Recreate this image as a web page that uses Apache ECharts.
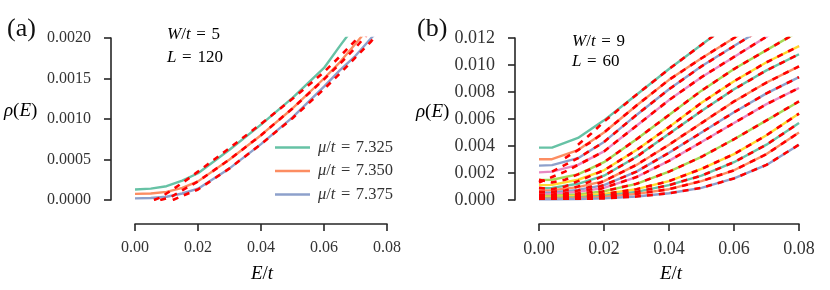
<!DOCTYPE html>
<html>
<head>
<meta charset="utf-8">
<script src="https://cdn.jsdelivr.net/npm/echarts@6/dist/echarts.min.js"></script>
<style>
html,body{margin:0;padding:0;background:#fff;}
#chart{width:830px;height:290px;}
</style>
</head>
<body>
<div id="chart"></div>
<script>
// ---------- Data ----------
const SET2 = ['#66c2a5', '#fc8d62', '#8da0cb', '#e78ac3', '#a6d854', '#ffd92f'];
const FIT_COLOR = '#ff0000';

// Panel (a): W/t = 5, L = 120
const A_MU_LABELS = ['7.325', '7.350', '7.375'];
const A_E = [0, 0.005, 0.01, 0.015, 0.02, 0.03, 0.04, 0.05, 0.06, 0.065, 0.07, 0.075, 0.08];
const A_RHO_1 = [0.00013, 0.00014, 0.00017, 0.00024, 0.00033, 0.00062, 0.00093, 0.00126, 0.00163, 0.0019, 0.00216, 0.0024, 0.0027];
const A_RHO_2 = [0.000075, 0.00008, 0.0001, 0.00015, 0.00023, 0.0005, 0.0008, 0.00113, 0.0015, 0.0017, 0.00193, 0.00216, 0.0024];
const A_RHO_3 = [0.00002, 0.000025, 0.00004, 0.00008, 0.00014, 0.00039, 0.00069, 0.00102, 0.0014, 0.0016, 0.00178, 0.002, 0.0022];

const A_FIT_E = [0.004, 0.006, 0.008, 0.01, 0.012, 0.015, 0.02, 0.03, 0.04, 0.05, 0.06, 0.065, 0.07, 0.075, 0.08];
const A_FIT_1 = [null, 0, 0.00003, 0.00008, 0.00013, 0.00021, 0.00035, 0.00064, 0.00094, 0.00125, 0.00158, 0.00177, 0.00197, 0.0022, 0.0024];
const A_FIT_2 = [null, null, 0, 0.00002, 0.00005, 0.00012, 0.00023, 0.0005, 0.0008, 0.00113, 0.00149, 0.00168, 0.00188, 0.0021, 0.0023];
const A_FIT_3 = [null, null, null, null, 0, 0.00005, 0.00013, 0.00039, 0.00069, 0.00101, 0.00137, 0.00156, 0.00176, 0.00196, 0.0022];

// Panel (b): W/t = 9, L = 60
const B_E = [0, 0.004, 0.012, 0.02, 0.03, 0.04, 0.05, 0.06, 0.07, 0.08];
const B_RHO_0  = [0.00388, 0.00388, 0.0046, 0.0059, 0.0078, 0.0097, 0.0115, 0.0133, 0.015, 0.0167];
const B_RHO_1  = [0.00302, 0.00302, 0.0037, 0.0050, 0.0070, 0.0089, 0.0105, 0.0120, 0.0135, 0.0150];
const B_RHO_2  = [0.00255, 0.00258, 0.0031, 0.0043, 0.0063, 0.0082, 0.0099, 0.0114, 0.0129, 0.0143];
const B_RHO_3  = [0.00205, 0.0021, 0.0026, 0.0036, 0.0055, 0.0074, 0.0091, 0.0106, 0.0121, 0.0135];
const B_RHO_4  = [0.00148, 0.0015, 0.0019, 0.0028, 0.0045, 0.0063, 0.0081, 0.0097, 0.0111, 0.0125];
const B_RHO_5  = [0.0011, 0.00112, 0.0015, 0.0022, 0.0037, 0.0054, 0.0072, 0.0088, 0.0102, 0.0114];
const B_RHO_6  = [0.00087, 0.0009, 0.0012, 0.0018, 0.0032, 0.0049, 0.0066, 0.0082, 0.0096, 0.0108];
const B_RHO_7  = [0.0007, 0.00072, 0.00095, 0.0014, 0.0026, 0.0041, 0.0057, 0.0073, 0.0087, 0.0099];
const B_RHO_8  = [0.00054, 0.00056, 0.00075, 0.0011, 0.0021, 0.0035, 0.0050, 0.0065, 0.0079, 0.0091];
const B_RHO_9  = [0.00042, 0.00044, 0.0006, 0.0009, 0.0017, 0.0029, 0.0043, 0.0057, 0.0071, 0.0083];
const B_RHO_10 = [0.0003, 0.00031, 0.00042, 0.00065, 0.0012, 0.0021, 0.0032, 0.0045, 0.0059, 0.0073];
const B_RHO_11 = [0.00022, 0.00023, 0.0003, 0.00045, 0.0008, 0.0014, 0.0023, 0.0034, 0.0048, 0.0064];
const B_RHO_12 = [0.00015, 0.00015, 0.0002, 0.00032, 0.0006, 0.0011, 0.0018, 0.0028, 0.0041, 0.0057];
const B_RHO_13 = [0.0001, 0.0001, 0.00014, 0.00022, 0.00045, 0.0008, 0.0014, 0.0022, 0.0034, 0.0050];
const B_RHO_14 = [0.00005, 0.00005, 0.00007, 0.00012, 0.00026, 0.0005, 0.0009, 0.0016, 0.0026, 0.0041];

const B_FIT_E = [0, 0.004, 0.008, 0.012, 0.016, 0.02, 0.03, 0.04, 0.05, 0.06, 0.07, 0.08];
const B_FIT_0  = [null, null, null, 0.0041, 0.0049, 0.0058, 0.0078, 0.0097, 0.0115, 0.0133, 0.015, 0.0167];
const B_FIT_1  = [null, null, 0.0031, 0.0037, 0.0043, 0.0050, 0.0070, 0.0089, 0.0105, 0.0120, 0.0135, 0.0150];
const B_FIT_2  = [null, 0.0021, 0.0026, 0.0031, 0.0037, 0.0043, 0.0063, 0.0082, 0.0099, 0.0114, 0.0129, 0.0143];
const B_FIT_3  = [0.0013, 0.0017, 0.0021, 0.0026, 0.0031, 0.0036, 0.0055, 0.0074, 0.0091, 0.0106, 0.0121, 0.0135];
const B_FIT_4  = [0.0015, 0.0013, 0.0015, 0.0019, 0.0023, 0.0028, 0.0045, 0.0063, 0.0081, 0.0097, 0.0111, 0.0125];
const B_FIT_5  = [0.0009, 0.0008, 0.0010, 0.0014, 0.0018, 0.0022, 0.0037, 0.0054, 0.0072, 0.0088, 0.0102, 0.0114];
const B_FIT_6  = [0.0006, 0.0006, 0.0007, 0.0010, 0.0014, 0.0018, 0.0032, 0.0049, 0.0066, 0.0082, 0.0096, 0.0108];
const B_FIT_7  = [0.0004, 0.0004, 0.0005, 0.0007, 0.0010, 0.0014, 0.0026, 0.0041, 0.0057, 0.0073, 0.0087, 0.0099];
const B_FIT_8  = [0.0003, 0.0003, 0.0004, 0.0005, 0.0008, 0.0011, 0.0021, 0.0035, 0.0050, 0.0065, 0.0079, 0.0091];
const B_FIT_9  = [0.0002, 0.0002, 0.0003, 0.0004, 0.0006, 0.0009, 0.0017, 0.0029, 0.0043, 0.0057, 0.0071, 0.0083];
const B_FIT_10 = [0.0002, 0.0002, 0.0002, 0.0003, 0.0004, 0.00065, 0.0012, 0.0021, 0.0032, 0.0045, 0.0059, 0.0073];
const B_FIT_11 = [0.0001, 0.0001, 0.0002, 0.0002, 0.0003, 0.00045, 0.0008, 0.0014, 0.0023, 0.0034, 0.0048, 0.0064];
const B_FIT_12 = [0.0001, 0.0001, 0.0001, 0.0002, 0.0002, 0.0003, 0.0006, 0.0011, 0.0018, 0.0028, 0.0041, 0.0057];
const B_FIT_13 = [0.0001, 0.0001, 0.0001, 0.0001, 0.0002, 0.0002, 0.00045, 0.0008, 0.0014, 0.0022, 0.0034, 0.0050];
const B_FIT_14 = [0.0001, 0.0001, 0.0001, 0.0001, 0.0001, 0.00012, 0.00026, 0.0005, 0.0009, 0.0016, 0.0026, 0.0041];

// Tick values
const X_TICKS = [0, 0.02, 0.04, 0.06, 0.08];
const A_Y_TICKS = [0, 0.0005, 0.001, 0.0015, 0.002];
const B_Y_TICKS = [0, 0.002, 0.004, 0.006, 0.008, 0.010, 0.012];

// ---------- Build ----------
const B_RHO = [B_RHO_0, B_RHO_1, B_RHO_2, B_RHO_3, B_RHO_4, B_RHO_5, B_RHO_6, B_RHO_7,
  B_RHO_8, B_RHO_9, B_RHO_10, B_RHO_11, B_RHO_12, B_RHO_13, B_RHO_14];
const B_FIT = [B_FIT_0, B_FIT_1, B_FIT_2, B_FIT_3, B_FIT_4, B_FIT_5, B_FIT_6, B_FIT_7,
  B_FIT_8, B_FIT_9, B_FIT_10, B_FIT_11, B_FIT_12, B_FIT_13, B_FIT_14];

const FONT = 'Liberation Serif';
const TXT = '#333333';
const pairs = (xs, ys) => xs.map((x, i) => [x, ys[i]]);
const muName = (s) => 'μ/t = ' + s;
const SP = '\u2004';

const series = [];
function solid(name, xi, yi, data, color) {
  series.push({ name, type: 'line', xAxisIndex: xi, yAxisIndex: yi, data, symbol: 'none',
    lineStyle: { color, width: 2.4 }, itemStyle: { color }, z: 2, animation: false, silent: true });
}
function fit(xi, yi, data) {
  series.push({ type: 'line', xAxisIndex: xi, yAxisIndex: yi, data, symbol: 'none',
    lineStyle: { color: FIT_COLOR, width: 2.6, type: [6, 6] }, z: 3, animation: false, silent: true });
}
[A_RHO_1, A_RHO_2, A_RHO_3].forEach((r, i) => solid(muName(A_MU_LABELS[i]), 0, 0, pairs(A_E, r), SET2[i]));
[A_FIT_1, A_FIT_2, A_FIT_3].forEach(r => fit(0, 0, pairs(A_FIT_E, r)));
B_RHO.forEach((r, i) => solid('b' + i, 1, 1, pairs(B_E, r), SET2[i % 6]));
B_FIT.forEach(r => fit(1, 1, pairs(B_FIT_E, r)));

const axisLine = { show: true, onZero: false, lineStyle: { color: '#262626', width: 1.6 } };
const axisTick = { show: true, length: 7, inside: false, lineStyle: { color: '#262626', width: 1.6 } };

function xAx(grid, fs) {
  return { type: 'value', gridIndex: grid, min: 0, max: 0.08, interval: 0.02, offset: 24,
    axisLine, axisTick, splitLine: { show: false },
    axisLabel: { margin: 16, formatter: v => v.toFixed(2), color: TXT, fontFamily: FONT, fontSize: fs } };
}
function yAx(grid, max, interval, dec, fs) {
  return { type: 'value', gridIndex: grid, min: 0, max, interval, offset: 24,
    axisLine, axisTick, splitLine: { show: false },
    axisLabel: { margin: 20, formatter: v => v.toFixed(dec), color: TXT, fontFamily: FONT, fontSize: fs } };
}

function mtext(x, y, text, align, size) {
  const r = {
    i: { fontFamily: FONT, fontStyle: 'italic', fontSize: size, color: TXT },
    n: { fontFamily: FONT, fontSize: size, color: TXT }
  };
  return { type: 'text', x, y, silent: true,
    style: { text, rich: r, align: align || 'left', verticalAlign: 'middle' } };
}

const option = {
  backgroundColor: '#fff',
  animation: false,
  grid: [
    { left: 135, top: 38, width: 252, height: 162 },
    { left: 539, top: 38, width: 260, height: 162 }
  ],
  xAxis: [xAx(0, 16), xAx(1, 18)],
  yAxis: [yAx(0, 0.002, 0.0005, 4, 16), yAx(1, 0.012, 0.002, 3, 18)],
  legend: {
    data: A_MU_LABELS.map(muName),
    orient: 'vertical', left: 270, top: 134,
    itemWidth: 35, itemHeight: 14, itemGap: 6.5,
    icon: 'path://M0,6h35v2.4h-35z',
    formatter: name => '{i|μ}{n|/}{i|t}{n|' + SP + '=' + SP + name.split('= ')[1] + '}',
    textStyle: { padding: [0, 0, 0, 3], rich: {
      i: { fontFamily: FONT, fontStyle: 'italic', fontSize: 16.5, color: TXT },
      n: { fontFamily: FONT, fontSize: 16.5, color: TXT } } },
    selectedMode: false
  },
  graphic: [
    { type: 'text', x: 7, y: 29, silent: true, style: { text: '(a)', fontFamily: FONT, fontSize: 26, fill: '#111', verticalAlign: 'middle' } },
    { type: 'text', x: 417, y: 29, silent: true, style: { text: '(b)', fontFamily: FONT, fontSize: 26, fill: '#111', verticalAlign: 'middle' } },
    mtext(4, 111, '{i|ρ}{n|(}{i|E}{n|)}', 'left', 19),
    mtext(416, 112, '{i|ρ}{n|(}{i|E}{n|)}', 'left', 19),
    mtext(262, 274, '{i|E}{n|/}{i|t}', 'center', 19),
    mtext(671, 274, '{i|E}{n|/}{i|t}', 'center', 19),
    mtext(167, 35, '{i|W}{n|/}{i|t}{n|' + SP + '=' + SP + '5}', 'left', 17),
    mtext(167, 58, '{i|L}{n|' + SP + '=' + SP + '120}', 'left', 17),
    mtext(572, 42, '{i|W}{n|/}{i|t}{n|' + SP + '=' + SP + '9}', 'left', 17),
    mtext(572, 62, '{i|L}{n|' + SP + '=' + SP + '60}', 'left', 17)
  ],
  series
};

const chart = echarts.init(document.getElementById('chart'), null, { renderer: 'canvas' });
chart.setOption(option);
</script>
</body>
</html>
